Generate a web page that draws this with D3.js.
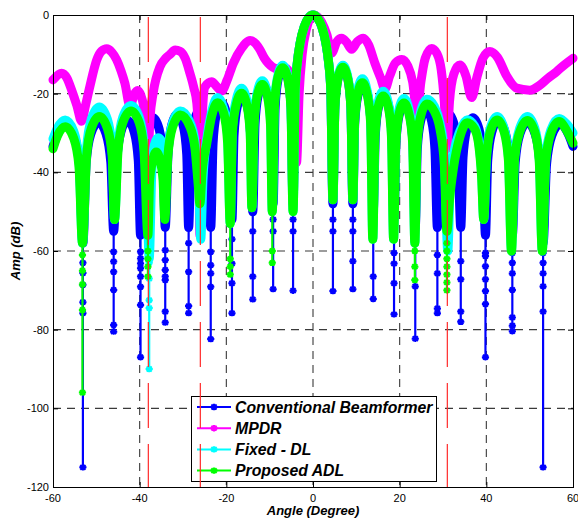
<!DOCTYPE html>
<html><head><meta charset="utf-8">
<script src="https://cdn.jsdelivr.net/npm/d3@7"></script>
<style>body{margin:0;background:#fff}svg{display:block}</style>
</head><body><svg id="c" width="578" height="522"></svg>
<script>
// ---------- data ----------
const xTicks = [-60,-40,-20,0,20,40,60];
const yTicks = [0,-20,-40,-60,-80,-100,-120];
const interferenceAngles = [-38,-26,31];
const seriesNames = ["Conventional Beamformer","MPDR","Fixed - DL","Proposed ADL"];
const seriesColors = ["#0000ff","#ff00ff","#00ffff","#00ff00"];

// Conventional beamformer
const convAngles = [-60,-59.0,-57.1,-55.1,-53.9,-53.1,
 -52.34,-51.28,-49.5,-47.73,-46.66,-46.0,
 -45.28,-44.35,-42.8,-41.25,-40.32,-39.8,
 -39.18,-38.33,-36.9,-35.48,-34.62,-34.1,
 -33.46,-32.65,-31.3,-29.95,-29.14,-28.7,
 -28.14,-27.38,-26.1,-24.83,-24.06,-23.6,
 -23.06,-22.33,-21.1,-19.88,-19.14,-18.7,
 -18.22,-17.5,-16.3,-15.1,-14.38,-13.9,
 -13.38,-12.68,-11.5,-10.33,-9.62,-9.2,
 -8.74,-8.05,-6.9,-5.75,-5.06,-4.6,
 -4.1,-3.6,-3,-2,-1,0,1,2,3,3.6,4.1,4.6,
 5.06,5.75,6.9,8.05,8.74,9.2,
 9.62,10.33,11.5,12.68,13.38,13.9,
 14.38,15.1,16.3,17.5,18.22,18.7,
 19.14,19.88,21.1,22.33,23.06,23.6,
 24.06,24.83,26.1,27.38,28.14,28.7,
 29.14,29.95,31.3,32.65,33.46,34.1,
 34.62,35.48,36.9,38.33,39.18,39.8,
 40.32,41.25,42.8,44.35,45.28,46.0,
 46.66,47.73,49.5,51.28,52.34,53.1,
 53.9,55.1,57.1,59.0,60];
const convDb = [-33.4,-30.5,-27.7,-30.7,-37.9,-58,
 -37.5,-30.3,-27.3,-30.3,-37.5,-55,
 -37,-29.8,-26.8,-29.8,-37,-56,
 -36.3,-29.1,-26.1,-29.1,-36.3,-54,
 -35.4,-28.2,-25.2,-28.2,-35.4,-54,
 -34.2,-27,-24,-27,-34.2,-54,
 -32.6,-25.4,-22.4,-25.4,-32.6,-52,
 -30.6,-23.4,-20.4,-23.4,-30.6,-50,
 -27.8,-20.6,-17.6,-20.6,-27.8,-48,
 -23.5,-16.3,-13.3,-16.3,-23.5,-48,
 -19,-12,-7.3,-2.9,-0.7,0,-0.7,-2.9,-7.3,-12,-19,-48,
 -23.5,-16.3,-13.3,-16.3,-23.5,-48,
 -27.8,-20.6,-17.6,-20.6,-27.8,-50,
 -30.6,-23.4,-20.4,-23.4,-30.6,-52,
 -32.6,-25.4,-22.4,-25.4,-32.6,-54,
 -34.2,-27,-24,-27,-34.2,-54,
 -35.4,-28.2,-25.2,-28.2,-35.4,-54,
 -36.3,-29.1,-26.1,-29.1,-36.3,-56,
 -37,-29.8,-26.8,-29.8,-37,-56,
 -37.5,-30.3,-27.3,-30.3,-37.5,-58,
 -37.9,-30.7,-27.7,-30.5,-33.4];
const convNullAngles = [-53.1,-46.0,-39.8,-34.1,-28.7,-23.6,-18.7,-13.9,-9.2,-4.6,4.6,9.2,13.9,18.7,23.6,28.7,34.1,39.8,46.0,53.1];
const convNullTips = [-115,-80.5,-87,-78.2,-75.8,-82.4,-75.8,-72.3,-69.7,-70.1,-70.2,-69.7,-72.2,-76.1,-82.3,-75.8,-78,-87,-80.4,-115];
const convNullMarks = [[-63,-65.6,-68.6,-73,-75.8],[-60.2,-62.7,-65.3,-69.9,-78.8],[-60.2,-61.9,-63.2,-64.4,-66.5,-69.1,-73.7],
 [-59.8,-62.3,-64.8,-66.5,-67.4,-75.4],[-58,-65.3,-74],[-60.2,-63.6,-65.7,-69.1],[-57,-63.2,-68.2],[-55,-66.5],[-52,-55],[-52,-55],
 [-52,-55],[-52,-55,-62.6],[-55,-66.5],[-60.5,-63.2,-68.2],[-58,-69],[-61,-65.7,-74.6],[-62.6,-67.2,-75.4],
 [-60.5,-61.3,-63.9,-67.2,-70.2,-73.5],[-60.5,-63,-65.7,-69.9,-76.9,-79],[-60.5,-63,-65.7,-69,-75.4]];

// MPDR
const mpdrAngles = [-60,-58,-56.8,-55.7,-54.5,-53.4,-52.5,-51.5,-49.9,-48.8,-47.6,-46.4,-45.3,-44.3,-43.4,-42.2,-41.3,-40.5,-39.7,-39.2,-38.6,-38.1,-37.6,-36.9,-35.3,-34,-33,-31.8,-30.7,-29.5,-28.4,-27.5,-26.8,-26.4,-26.1,-25.7,-24.9,-23.4,-22.2,-21.1,-19.8,-18.4,-16.5,-14.5,-13.2,-12.2,-11.2,-10.3,-8.4,-6.1,-5.3,-4.5,-3.8,-3.2,-2.5,-1.5,-0.7,0,1,2,3.2,4.3,5.5,6.6,7.8,8.9,10.2,11.6,12.8,14.3,15.6,16.6,17.7,19,20.5,21.9,23,24,24.9,25.9,27.4,28.6,29.6,30.3,30.9,31.5,32.5,33.9,35.3,36.6,37.9,39.2,40.8,42.6,44.7,47,50,52.4,54.3,56.2,58.2,60];
const mpdrDb = [-16.5,-14.8,-16,-19.1,-23,-27,-23,-18.2,-11.4,-9.2,-8.6,-9.5,-11.4,-14.2,-17.4,-23.3,-20.3,-19.2,-20.5,-22.5,-27.5,-36,-26,-19.9,-13.1,-11,-10,-8.9,-9.2,-11,-14.8,-18.5,-22.5,-32,-56,-30,-18.2,-17,-18.2,-19.3,-16.5,-12.3,-8.5,-6.5,-7.3,-8.9,-11,-12.3,-13.6,-13.6,-15.5,-24,-37.5,-20,-10,-3.5,-0.8,0,-0.4,-1.8,-5,-9.7,-6.8,-5.9,-7,-8.7,-6.8,-5.9,-7.5,-12.3,-16,-18.8,-15.5,-12.2,-11.3,-13,-17,-25,-17,-11,-8.5,-9.8,-14,-22,-34,-22,-15,-12.7,-15.5,-21,-15.5,-11,-9.3,-10.8,-15.5,-18.6,-19.1,-17.8,-16,-14.4,-12.5,-11];

// Fixed - DL
const fdlAngles = [-60,-59.0,-57.2,-55.2,-54.0,-53.2,
 -52.26,-51.15,-49.3,-47.45,-46.34,-45.8,
 -45.0,-43.9,-42.0,-40.1,-39.0,-38.3,-37.8,
 -37.2,-36.6,-35.8,-35.0,-34.5,-34.2,
 -33.5,-32.4,-30.6,-28.5,-27.2,-26.4,-25.9,
 -25.4,-24.5,-23.4,-22.0,-20.6,-19.7,-19.1,
 -18.6,-17.75,-16.5,-15.25,-14.5,-14.1,
 -13.6,-12.9,-11.7,-10.5,-9.8,-9.4,
 -8.9,-8.2,-7.0,-5.8,-5.1,-4.6,
 -4.1,-3.6,-3,-2,-1,0,1,2,3,3.6,4.1,4.6,
 5.06,5.75,6.9,8.05,8.74,9.2,
 9.6,10.3,11.4,12.5,13.3,13.8,
 14.3,15.0,16.2,17.4,18.1,18.6,
 19.1,19.8,21.0,22.2,23.0,23.5,
 24.0,24.9,26.3,28.0,29.3,30.3,31.1,
 31.7,32.5,33.9,35.6,37.3,38.3,38.9,39.4,
 40.0,40.9,42.5,44.1,45.1,45.8,
 46.5,47.7,49.5,51.2,52.2,52.9,
 53.7,54.9,56.8,58.6,60];
const fdlDb = [-31.5,-28.8,-26.7,-29.6,-37,-58,
 -34,-26.5,-23.4,-26.5,-34,-52,
 -33.2,-26,-23,-26,-33,-45,-62,
 -40,-33,-31.2,-32,-38,-48,
 -34.5,-27.4,-24.4,-27,-32.5,-42,-57,
 -42,-31.5,-24.6,-21,-23.8,-31,-53,
 -28.8,-21.7,-18.6,-21.7,-28.8,-49,
 -27,-19.8,-16.7,-19.8,-27,-50,
 -23,-15.8,-12.8,-15.8,-23,-50,
 -19,-12,-7.3,-2.9,-0.7,0,-0.7,-2.9,-7.3,-12,-19,-47,
 -23,-15.8,-12.8,-15.8,-23,-47,
 -26.4,-19.2,-16.2,-19.2,-26.4,-57,
 -29.6,-22.4,-19.4,-22.4,-29.6,-57,
 -31.4,-24.2,-21.2,-24.2,-31.4,-58,
 -31.8,-24.3,-21.4,-23.2,-27.5,-35,-60,
 -42,-35,-29.5,-26.6,-28.2,-32.7,-40,-52,
 -36,-28.8,-25.8,-28.8,-36,-60,
 -36,-28.8,-25.8,-28.8,-36,-60,
 -36.3,-29.2,-26.3,-27.8,-30];
const fdlNullAngles = [-37.8];
const fdlNullTips = [-90];
const fdlNullMarks = [[-63,-67,-72.5,-74.5]];

// Proposed ADL
const adlAngles = [-60,-59.0,-57.2,-55.2,-54.0,-53.2,
 -52.26,-51.15,-49.3,-47.45,-46.34,-45.8,
 -45.0,-43.9,-42.0,-40.1,-39.0,-38.1,
 -37.7,-37.1,-36.2,-35.2,-34.6,-34.2,
 -33.5,-32.4,-30.6,-28.4,-27.2,-26.5,-26.1,
 -25.6,-24.5,-23.4,-22.0,-20.6,-19.7,-19.1,
 -18.6,-17.75,-16.5,-15.25,-14.5,-14.1,
 -13.6,-12.9,-11.7,-10.5,-9.8,-9.4,
 -8.9,-8.2,-7.0,-5.8,-5.1,-4.6,
 -4.1,-3.6,-3,-2,-1,0,1,2,3,3.6,4.1,4.6,
 5.06,5.75,6.9,8.05,8.74,9.2,
 9.6,10.3,11.4,12.5,13.3,13.8,
 14.3,15.0,16.2,17.4,18.1,18.6,
 19.1,19.8,21.0,22.2,23.0,23.5,
 24.0,24.9,26.3,28.0,29.3,30.3,30.9,
 31.5,32.4,33.9,35.6,37.3,38.3,38.9,39.4,
 40.0,40.9,42.5,44.1,45.1,45.8,
 46.5,47.7,49.5,51.2,52.2,52.9,
 53.7,54.9,56.8,58.6,60];
const adlDb = [-34,-30.8,-28.4,-31.4,-38.6,-58,
 -36,-28.8,-25.8,-28.8,-36,-52,
 -34.6,-27.4,-24.4,-27.4,-34.6,-56,
 -42,-37.5,-34.8,-37.5,-42,-52,
 -36,-28.5,-25.4,-28.4,-34.3,-43,-48,
 -40,-32.6,-25.8,-22.3,-25,-32.5,-53,
 -30,-23,-19.9,-23,-30,-49,
 -28,-20.8,-17.7,-20.8,-28,-50,
 -23.6,-16.4,-13.4,-16.4,-23.6,-50,
 -19,-12,-7.3,-2.9,-0.7,0,-0.7,-2.9,-7.3,-12,-19,-47,
 -23.5,-16.3,-13.3,-16.3,-23.5,-47,
 -27.4,-20.2,-17.2,-20.2,-27.4,-57,
 -30.8,-23.6,-20.6,-23.6,-30.8,-57,
 -32.6,-25.4,-22.4,-25.4,-32.6,-58,
 -33,-25.5,-22.6,-24.5,-29,-38,-55,
 -47,-39,-31,-27.4,-29,-33.5,-41,-52,
 -37,-29.7,-26.7,-29.7,-37,-60,
 -37,-29.8,-26.8,-29.8,-37,-60,
 -37.3,-30.1,-27.1,-29.5,-32.6];
const adlNullAngles = [-53.2,-38.1,-19.1,-9.4,23.5,30.9];
const adlNullTips = [-96,-66.5,-66,-63,-67.4,-70];
const adlNullMarks = [[-61,-65,-68.5,-75],[-60,-62,-64],[-62,-64],[-60],[-60,-64],[-58,-60,-62,-64,-66,-68]];

// ---------- drawing ----------
const W = 578, H = 522;
const m = {l:53, r:573, t:15, b:487};
const FONT = "Liberation Sans, Arial, Helvetica, sans-serif";
const svg = d3.select("#c");
svg.append("rect").attr("width",W).attr("height",H).attr("fill","#fff");
const x = d3.scaleLinear().domain([-60,60]).range([m.l,m.r]);
const y = d3.scaleLinear().domain([-120,0]).range([m.b,m.t]);

// grid
const grid = svg.append("g");
grid.selectAll(".gx").data(xTicks.slice(1,-1)).join("line")
  .attr("x1",d=>x(d)).attr("x2",d=>x(d)).attr("y1",m.t).attr("y2",m.b)
  .attr("stroke","#3a3a3a").attr("stroke-width",1.1).attr("stroke-dasharray","8,6");
grid.selectAll(".gy").data(yTicks.slice(1,-1)).join("line")
  .attr("y1",d=>y(d)).attr("y2",d=>y(d)).attr("x1",m.l).attr("x2",m.r)
  .attr("stroke","#3a3a3a").attr("stroke-width",1.1).attr("stroke-dasharray","8,6");

const line = d3.line().x(d=>x(d[0])).y(d=>y(d[1])).curve(d3.curveMonotoneX);
const star = "M-3.6,0H3.6M0,-3.2V3.2M-2.6,-2.4L2.6,2.4M-2.6,2.4L2.6,-2.4";

function drawSeries(angles, db, color, nullAngles, nullTips, nullMarks, bandWidth){
  const g = svg.append("g");
  const pts = angles.map((a,i)=>[a, db[i]]);
  if (nullAngles){
    nullAngles.forEach((a,i)=>{
      const best = pts.reduce((p,c)=>Math.abs(c[0]-a)<Math.abs(p[0]-a)?c:p);
      g.append("line").attr("x1",x(a)).attr("x2",x(a))
        .attr("y1",y(best[1])).attr("y2",y(nullTips[i]))
        .attr("stroke",color).attr("stroke-width",2.2);
      const ms = nullMarks[i].concat([nullTips[i]]);
      g.selectAll(null).data(ms).join("path")
        .attr("d",star).attr("transform",v=>`translate(${x(a)},${y(v)})`)
        .attr("stroke",color).attr("stroke-width",2).attr("fill","none");
    });
  }
  g.append("path").attr("d",line(pts)).attr("fill","none")
    .attr("stroke",color).attr("stroke-width",bandWidth)
    .attr("stroke-linejoin","round").attr("stroke-linecap","round");
}

drawSeries(convAngles, convDb, seriesColors[0], convNullAngles, convNullTips, convNullMarks, 9);
drawSeries(mpdrAngles, mpdrDb, seriesColors[1], null, null, null, 9);
drawSeries(fdlAngles, fdlDb, seriesColors[2], fdlNullAngles, fdlNullTips, fdlNullMarks, 9);
drawSeries(adlAngles, adlDb, seriesColors[3], adlNullAngles, adlNullTips, adlNullMarks, 9);

// axes box and ticks
const ax = svg.append("g");
ax.append("rect").attr("x",m.l+0.5).attr("y",m.t+0.5).attr("width",m.r-m.l).attr("height",m.b-m.t)
  .attr("fill","none").attr("stroke","#000").attr("stroke-width",1);
xTicks.forEach(t=>{
  ax.append("line").attr("x1",x(t)+0.5).attr("x2",x(t)+0.5).attr("y1",m.b).attr("y2",m.b-5).attr("stroke","#000");
  ax.append("line").attr("x1",x(t)+0.5).attr("x2",x(t)+0.5).attr("y1",m.t).attr("y2",m.t+5).attr("stroke","#000");
  ax.append("text").attr("x",x(t)).attr("y",m.b+15).attr("text-anchor","middle")
    .attr("font-family",FONT).attr("font-size",11).text(t);
});
yTicks.forEach(t=>{
  ax.append("line").attr("x1",m.l).attr("x2",m.l+5).attr("y1",y(t)+0.5).attr("y2",y(t)+0.5).attr("stroke","#000");
  ax.append("line").attr("x1",m.r).attr("x2",m.r-5).attr("y1",y(t)+0.5).attr("y2",y(t)+0.5).attr("stroke","#000");
  ax.append("text").attr("x",m.l-4).attr("y",y(t)+4).attr("text-anchor","end")
    .attr("font-family",FONT).attr("font-size",11).text(t);
});
ax.append("text").attr("x",(m.l+m.r)/2).attr("y",515).attr("text-anchor","middle")
  .attr("font-family",FONT).attr("font-size",13)
  .attr("font-weight","bold").attr("font-style","italic").text("Angle (Degree)");
ax.append("text").attr("transform","translate(20,251) rotate(-90)").attr("text-anchor","middle")
  .attr("font-family",FONT).attr("font-size",13)
  .attr("font-weight","bold").attr("font-style","italic").text("Amp (dB)");

// legend
const lg = svg.append("g");
lg.append("rect").attr("x",191.5).attr("y",396.5).attr("width",245).attr("height",85)
  .attr("fill","#fff").attr("stroke","#000").attr("stroke-width",1);
seriesNames.forEach((n,i)=>{
  const yy = 407 + i*21.2;
  lg.append("line").attr("x1",197).attr("x2",231).attr("y1",yy).attr("y2",yy)
    .attr("stroke",seriesColors[i]).attr("stroke-width",2);
  lg.append("path").attr("d",star).attr("transform",`translate(214,${yy})`)
    .attr("stroke",seriesColors[i]).attr("stroke-width",2).attr("fill","none");
  lg.append("text").attr("x",235).attr("y",yy+5.5)
    .attr("font-family",FONT).attr("font-size",15.8)
    .attr("font-weight","bold").attr("font-style","italic").text(n);
});

// interference direction markers
svg.append("g").selectAll("line").data(interferenceAngles).join("line")
  .attr("x1",d=>x(d)).attr("x2",d=>x(d)).attr("y1",m.t+2).attr("y2",m.b)
  .attr("stroke","#ff2a2a").attr("stroke-width",1.2).attr("stroke-dasharray","45,16");
</script></body></html>
